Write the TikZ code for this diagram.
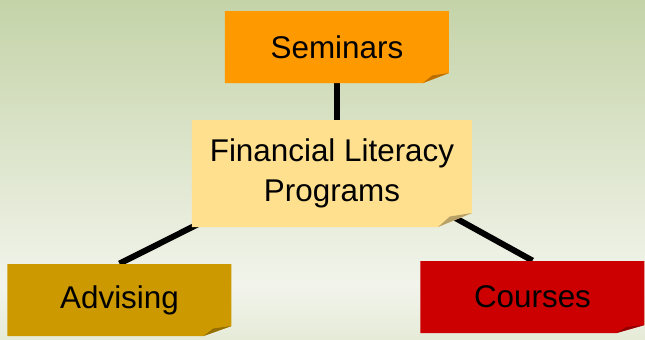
\documentclass[tikz,border=0pt]{standalone}
\usepackage{fontspec}
\setmainfont{Liberation Sans}
\usetikzlibrary{backgrounds,calc}
\definecolor{seminarorange}{HTML}{FF9900}
\definecolor{progyellow}{HTML}{FFE08F}
\definecolor{advgold}{HTML}{CC9900}
\definecolor{courred}{HTML}{CC0000}
\definecolor{bgtop}{HTML}{C4D3A8}
\definecolor{bgmid}{HTML}{F2F4EB}
\definecolor{bgbot}{HTML}{E6EBD8}

\begin{document}
\begin{tikzpicture}[x=0.5pt,y=-0.5pt]
			\tikzset{note/.style n args={3}{rectangle, inner sep=0pt, align=center, font=\fontsize{15.7}{20}\selectfont,
				path picture={
					\fill[#1] (path picture bounding box.north west) -- (path picture bounding box.north east)
						-- ([yshift=#3]path picture bounding box.south east) -- ([xshift=-#2]path picture bounding box.south east)
						-- (path picture bounding box.south west) -- cycle;
					\fill[#1!72!black] ([xshift=-#2]path picture bounding box.south east) -- ([xshift=-0.65*#2,yshift=0.75*#3]path picture bounding box.south east)
						-- ([yshift=#3]path picture bounding box.south east) -- cycle;
				}},
				small/.style={minimum width=112pt, minimum height=36pt},
				link/.style={line width=3pt, black}}
\useasboundingbox (0,0) rectangle (645,339);

\node[note={seminarorange}{13pt}{5pt}, small] at (337,47) (sem) {Seminars};
\node[note={progyellow}{17pt}{7pt}, minimum width=140pt, minimum height=53.5pt] at (332,173.5) (fin) {Financial Literacy\\Programs};
\node[note={advgold}{14pt}{5pt}, small] at (119.5,300) (adv) {Advising};
\node[note={courred}{14pt}{4pt}, small] at (532.5,297) (crs) {Courses};
			\begin{pgfonlayer}{background}
			\shade [top color=bgtop, bottom color=bgmid] (0,0) rectangle (645,285);
			\shade [top color=bgmid, bottom color=bgbot] (0,285) rectangle (645,339);
			\draw [link] (sem.south) -- (sem.south |- fin.north);
			\draw [link] (adv.north) -- ($(adv.north)!1.3!(fin.south west)$);
			\draw [link] (crs.north) -- ($(crs.north)!1.3!(fin.south east)$);
			\end{pgfonlayer}
		\end{tikzpicture}
\end{document}
